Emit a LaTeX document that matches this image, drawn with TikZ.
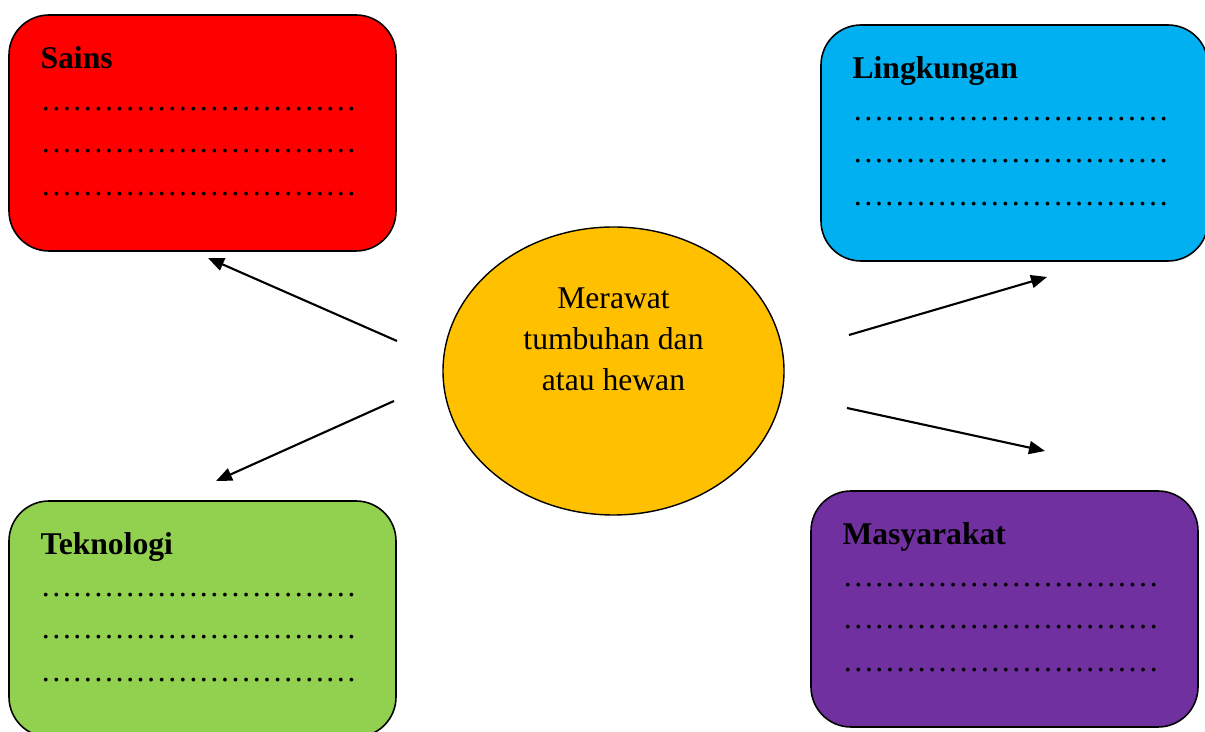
\documentclass[tikz,border=0pt]{standalone}
\usepackage{fontspec}
\setmainfont{Liberation Serif}
\usetikzlibrary{shapes,arrows.meta,positioning}

\definecolor{sainsred}{HTML}{FF0000}
\definecolor{lingkunganblue}{HTML}{00B0F0}
\definecolor{teknologigreen}{HTML}{92D050}
\definecolor{masyarakatpurple}{HTML}{7030A0}
\definecolor{hubyellow}{HTML}{FFC000}

\newcommand{\isian}{{…}{…}{…}{…}{…}{…}{…}{…}{…}{…}}

\begin{document}
\begin{tikzpicture}[
    box/.style={rectangle, rounded corners=0.8cm, minimum width=7.74cm, minimum height=4.72cm, draw=black, line width=0.9pt},
    boxtext/.style={anchor=north west, inner sep=0pt, align=left, font=\fontsize{18}{24}\selectfont},
    hub/.style={ellipse, minimum width=6.82cm, minimum height=5.76cm, draw=black, fill=hubyellow, line width=0.8pt},
    hubtext/.style={anchor=north, inner sep=0pt, align=center, font=\fontsize{18}{23.6}\selectfont},
    arrow/.style={line width=1.2pt, -{Triangle[length=0.32cm, width=0.26cm]}}
]
\useasboundingbox (0,0) rectangle (24.1,14.64);

% Central topic
\node[hub] (hub) at (12.27,7.22) {};
\node[hubtext] (hubtext) at ([yshift=1.68cm]hub.center) {Merawat\\tumbuhan dan\\atau hewan};

% Sains
\node[box, fill=sainsred] (sains) at (4.05,11.98) {};
\node[boxtext] (sainstext) at ([shift={(0.64,-0.64)}]sains.north west) {\textbf{Sains}\\\isian\\\isian\\\isian};

% Lingkungan
\node[box, fill=lingkunganblue] (lingkungan) at (20.29,11.78) {};
\node[boxtext] (lingkungantext) at ([shift={(0.64,-0.64)}]lingkungan.north west) {\textbf{Lingkungan}\\\isian\\\isian\\\isian};

% Teknologi
\node[box, fill=teknologigreen] (teknologi) at (4.05,2.26) {};
\node[boxtext] (teknologitext) at ([shift={(0.64,-0.64)}]teknologi.north west) {\textbf{Teknologi}\\\isian\\\isian\\\isian};

% Masyarakat
\node[box, fill=masyarakatpurple] (masyarakat) at (20.09,2.46) {};
\node[boxtext] (masyarakattext) at ([shift={(0.64,-0.64)}]masyarakat.north west) {\textbf{Masyarakat}\\\isian\\\isian\\\isian};

% Arrow ends
\coordinate (sainsfrom) at (7.94,7.82);
\coordinate (sainsto) at (4.16,9.48);
\coordinate (teknologifrom) at (7.88,6.62);
\coordinate (teknologito) at (4.32,5.02);
\coordinate (lingkunganfrom) at (16.98,7.94);
\coordinate (lingkunganto) at (20.94,9.10);
\coordinate (masyarakatfrom) at (16.94,6.48);
\coordinate (masyarakatto) at (20.90,5.62);

% Arrows
\draw[arrow] (sainsfrom) -- (sainsto);
\draw[arrow] (teknologifrom) -- (teknologito);
\draw[arrow] (lingkunganfrom) -- (lingkunganto);
\draw[arrow] (masyarakatfrom) -- (masyarakatto);

\end{tikzpicture}
\end{document}
